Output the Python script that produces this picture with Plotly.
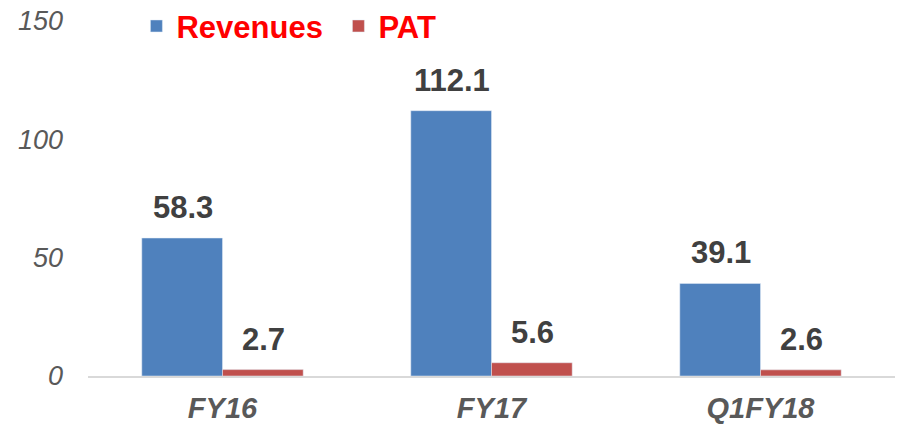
import plotly.graph_objects as go

categories = ["FY16", "FY17", "Q1FY18"]
revenues = [58.3, 112.1, 39.1]
pat = [2.7, 5.6, 2.6]
y_ticks = [0, 50, 100, 150]

BLUE = "#4f81bd"
RED = "#c0504d"
LABEL = "#404040"
TICK = "#595959"
FONT = "Liberation Sans, Arial, sans-serif"

fig = go.Figure()
fig.add_trace(go.Bar(name="Revenues", x=categories, y=revenues, marker_color=BLUE))
fig.add_trace(go.Bar(name="PAT", x=categories, y=pat, marker_color=RED))

# value labels above each bar
for i, cat in enumerate(categories):
    for vals, shift in ((revenues, -40), (pat, 41)):
        fig.add_annotation(
            x=cat, y=vals[i], xref="x", yref="y", xshift=shift, yshift=11,
            text=f"{vals[i]:.1f}", showarrow=False, yanchor="bottom",
            font=dict(family=FONT, size=31, color=LABEL, weight="bold"),
        )

fig.update_layout(
    width=897, height=424,
    margin=dict(l=88, r=2, t=21, b=48, autoexpand=False),
    paper_bgcolor="white", plot_bgcolor="white",
    barmode="group", bargap=0.4, bargroupgap=0,
    showlegend=True,
    legend=dict(
        orientation="h", x=0.06, y=0.985, xanchor="left", yanchor="middle",
        font=dict(family=FONT, size=31, color="#ff0000", weight="bold"),
        itemwidth=30, entrywidth=157, bgcolor="rgba(0,0,0,0)",
    ),
    xaxis=dict(
        showline=True, linecolor="#d9d9d9", linewidth=2, ticks="",
        automargin=False,
        tickfont=dict(family=FONT, size=29, color=TICK, weight="bold", style="italic"),
        ticklabelstandoff=5,
    ),
    yaxis=dict(
        range=[0, 150], tickvals=y_ticks, showgrid=False, zeroline=False,
        showline=False, ticks="", automargin=False,
        tickfont=dict(family=FONT, size=27, color=TICK, style="italic"),
        ticklabelstandoff=24,
    ),
)

fig.write_html("out.html")
